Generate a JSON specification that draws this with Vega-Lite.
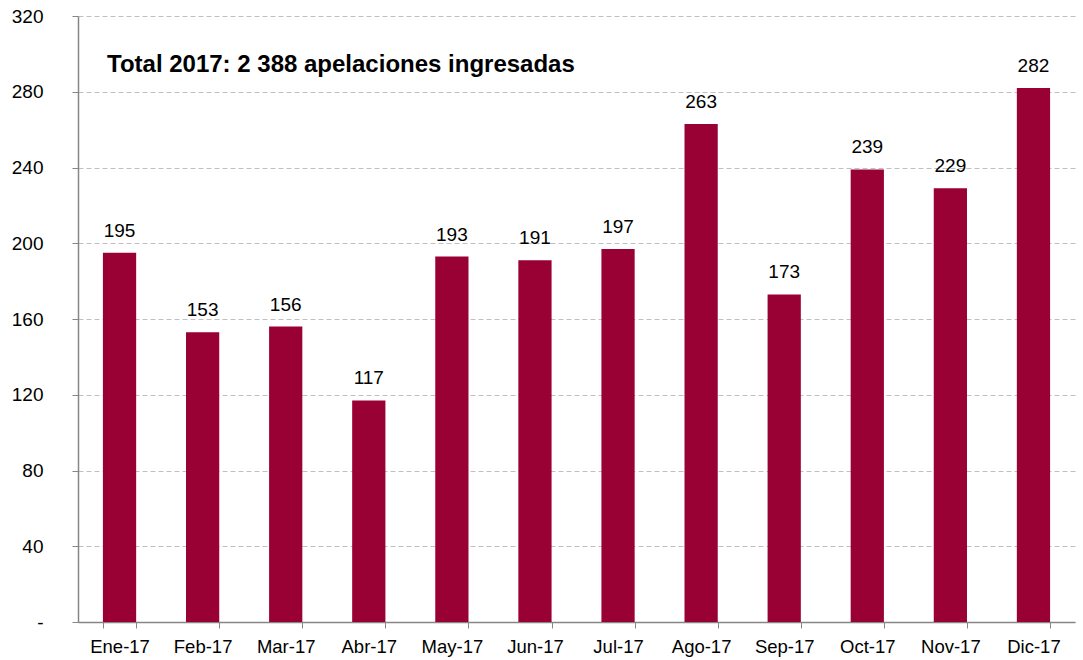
{
  "$schema": "https://vega.github.io/schema/vega-lite/v6.json",
  "autosize": "none",
  "width": 997,
  "height": 606,
  "padding": {"left": 78, "top": 16, "right": 8, "bottom": 38},
  "background": "white",
  "config": {
    "font": "Liberation Sans",
    "view": {"stroke": null}
  },
  "title": {
    "text": "Total 2017: 2 388 apelaciones ingresadas",
    "anchor": "start",
    "frame": "group",
    "orient": "top",
    "baseline": "alphabetic",
    "fontSize": 24,
    "fontWeight": "bold",
    "color": "#000000",
    "font": "Liberation Sans",
    "offset": 0,
    "dx": 29,
    "dy": 89
  },
  "data": {
    "values": [
      {"mes": "Ene-17", "apelaciones": 195},
      {"mes": "Feb-17", "apelaciones": 153},
      {"mes": "Mar-17", "apelaciones": 156},
      {"mes": "Abr-17", "apelaciones": 117},
      {"mes": "May-17", "apelaciones": 193},
      {"mes": "Jun-17", "apelaciones": 191},
      {"mes": "Jul-17", "apelaciones": 197},
      {"mes": "Ago-17", "apelaciones": 263},
      {"mes": "Sep-17", "apelaciones": 173},
      {"mes": "Oct-17", "apelaciones": 239},
      {"mes": "Nov-17", "apelaciones": 229},
      {"mes": "Dic-17", "apelaciones": 282}
    ]
  },
  "encoding": {
    "x": {
      "field": "mes",
      "type": "nominal",
      "sort": null,
      "scale": {"paddingInner": 0.6, "paddingOuter": 0.3},
      "axis": {
        "title": null,
        "labelAngle": 0,
        "labelFontSize": 18.5,
        "labelColor": "#000000",
        "labelPadding": 9,
        "tickBand": "extent",
        "tickSize": 6,
        "tickColor": "#868686",
        "domainColor": "#868686",
        "domainWidth": 1.5,
        "grid": false
      }
    },
    "y": {
      "field": "apelaciones",
      "type": "quantitative",
      "scale": {"domain": [0, 320], "nice": false},
      "axis": {
        "title": null,
        "values": [0, 40, 80, 120, 160, 200, 240, 280, 320],
        "labelExpr": "datum.value == 0 ? '-' : datum.label",
        "labelFontSize": 19,
        "labelColor": "#000000",
        "labelPadding": 29,
        "tickSize": 6,
        "tickColor": "#868686",
        "domainColor": "#868686",
        "domainWidth": 1.5,
        "grid": true,
        "gridColor": "#c0c0c0",
        "gridDash": [5, 3],
        "gridWidth": 1
      }
    }
  },
  "layer": [
    {
      "mark": {"type": "bar", "color": "#990033"}
    },
    {
      "mark": {"type": "text", "baseline": "alphabetic", "dy": -16, "fontSize": 19, "color": "#000000"},
      "encoding": {"text": {"field": "apelaciones", "type": "quantitative"}}
    }
  ]
}
